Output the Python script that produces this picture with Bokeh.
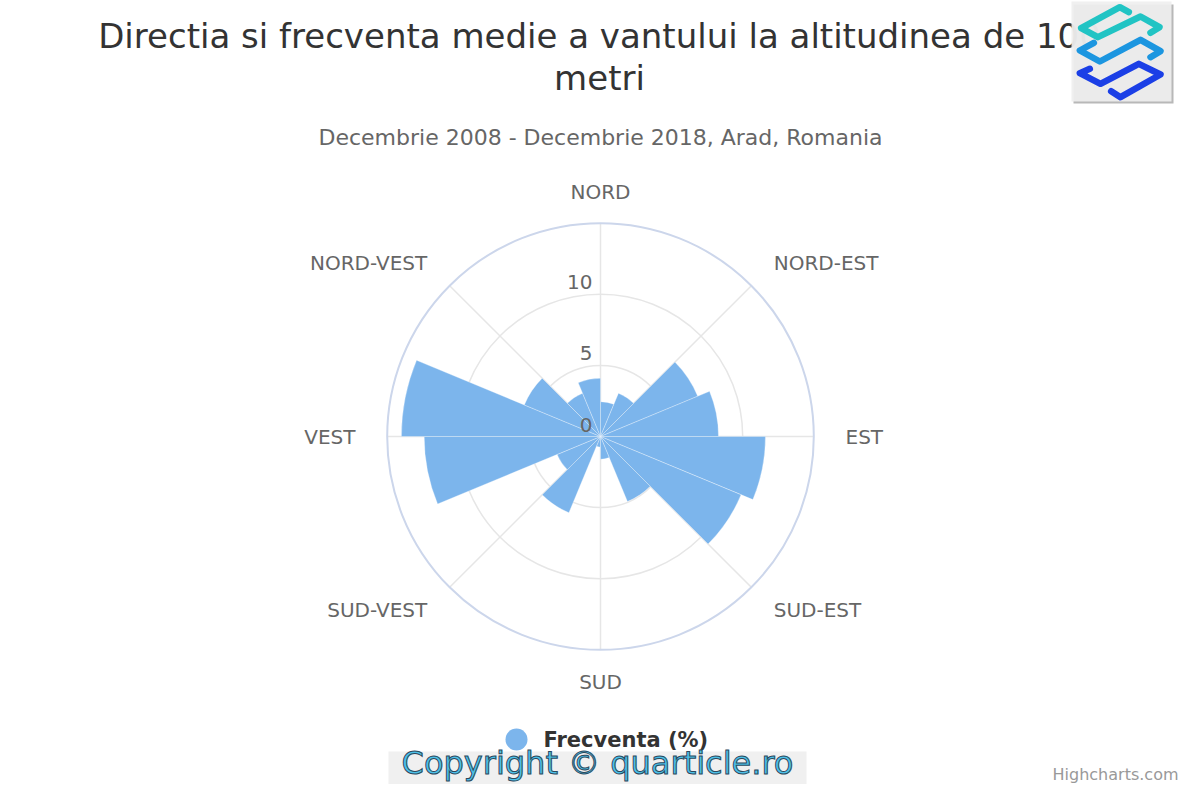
import math
from bokeh.plotting import figure
from bokeh.models import Range1d
from bokeh.core.properties import value
from bokeh.embed import file_html
from bokeh.resources import INLINE

# ---------------- data ----------------
sectors = ["N", "NNE", "NE", "ENE", "E", "ESE", "SE", "SSE",
           "S", "SSV", "SV", "VSV", "V", "VNV", "NV", "NNV"]
frecventa = [2.45, 3.3, 7.4, 8.3, 11.6, 10.7, 4.95, 1.6,
             0.75, 5.8, 3.3, 12.4, 14.0, 5.8, 3.3, 4.1]
axis_labels = ["NORD", "NORD-EST", "EST", "SUD-EST", "SUD", "SUD-VEST", "VEST", "NORD-VEST"]
radial_ticks = [0, 5, 10]
radial_max = 15

title_lines = ["Directia si frecventa medie a vantului la altitudinea de 100", "metri"]
subtitle = "Decembrie 2008 - Decembrie 2018, Arad, Romania"
series_name = "Frecventa (%)"

# ---------------- layout ----------------
W, H = 1184, 784
CX, CY = 600, 436          # centre of the rose in picture pixels
R_PX = 213.3               # outer radius in pixels
K = R_PX / radial_max      # pixels per unit
FONT = value("DejaVu Sans")

def dx(X):
    return (X - CX) / K

def dy(Y):
    return (CY - Y) / K

p = figure(width=W, height=H, output_backend="svg", toolbar_location=None,
           x_range=Range1d(dx(0), dx(W)), y_range=Range1d(dy(H), dy(0)),
           min_border=0, outline_line_color=None)
p.axis.visible = False
p.grid.visible = False
p.background_fill_color = "white"

# grid circles and spokes
n_lab = len(axis_labels)
sp_ang = [i * 360 / n_lab for i in range(n_lab)]
p.segment(x0=[0] * n_lab, y0=[0] * n_lab,
          x1=[radial_max * math.sin(math.radians(a)) for a in sp_ang],
          y1=[radial_max * math.cos(math.radians(a)) for a in sp_ang],
          line_color="#e6e6e6", line_width=1.5)
grid_r = [t for t in radial_ticks if t > 0]
p.circle(x=[0] * len(grid_r), y=[0] * len(grid_r), radius=grid_r,
         fill_color=None, line_color="#e6e6e6", line_width=1.5)
p.circle(x=[0], y=[0], radius=[radial_max], fill_color=None,
         line_color="#ccd6eb", line_width=2)

# wind rose bars
n = len(frecventa)
step = 360 / n
starts = [math.radians(90 - (i + 1) * step) for i in range(n)]
ends = [math.radians(90 - i * step) for i in range(n)]
p.wedge(x=[0] * n, y=[0] * n, radius=frecventa, start_angle=starts, end_angle=ends,
        fill_color="#7cb5ec", line_color="white", line_alpha=0.5, line_width=0.6)

# category labels
LR = 245 / K
for i, a in enumerate(sp_ang):
    s = math.sin(math.radians(a))
    c = math.cos(math.radians(a))
    al = "left" if s > 0.01 else ("right" if s < -0.01 else "center")
    p.text(x=[LR * s], y=[LR * c], text=[axis_labels[i]], text_font=FONT,
           text_font_size="20px", text_color="#666666", text_align=al,
           text_baseline="middle")

# radial tick labels
p.text(x=[-8 / K] * len(radial_ticks), y=[t + 12 / K for t in radial_ticks],
       text=[str(t) for t in radial_ticks], text_font=FONT, text_font_size="20px",
       text_color="#666666", text_align="right", text_baseline="middle")

# title & subtitle
p.text(x=[dx(599)] * 2, y=[dy(35), dy(77)], text=title_lines, text_font=FONT,
       text_font_size="34px", text_color="#333333", text_align="center",
       text_baseline="middle")
p.text(x=[dx(600)], y=[dy(137)], text=[subtitle], text_font=FONT,
       text_font_size="22px", text_color="#666666", text_align="center",
       text_baseline="middle")

# legend
p.scatter(x=[dx(516)], y=[dy(739)], size=22, marker="circle",
          fill_color="#7cb5ec", line_color=None)
p.text(x=[dx(543)], y=[dy(739)], text=[series_name], text_font=FONT,
       text_font_size="21px", text_font_style="bold", text_color="#333333",
       text_align="left", text_baseline="middle")

# copyright band
p.quad(left=[dx(388)], right=[dx(806)], top=[dy(751)], bottom=[dy(784)],
       fill_color="#f0f0f0", line_color=None)
p.text(x=[dx(597)], y=[dy(762)], text=["Copyright © quarticle.ro"], text_font=FONT,
       text_font_size="32px", text_color="#4cc0e8", text_outline_color="#2b4a5e",
       text_align="center", text_baseline="middle")

# credits
p.text(x=[dx(1178)], y=[dy(774)], text=["Highcharts.com"], text_font=FONT,
       text_font_size="16px", text_color="#999999", text_align="right",
       text_baseline="middle")

# logo
p.quad(left=[dx(1073)], right=[dx(1173)], top=[dy(4)], bottom=[dy(103)],
       fill_color="#888888", fill_alpha=0.6, line_color=None)
p.quad(left=[dx(1071)], right=[dx(1171)], top=[dy(1)], bottom=[dy(101)],
       fill_color="#efefef", fill_alpha=0.93, line_color=None)

def zpath(pts):
    return [dx(1060 + zx / 3) for zx, zy in pts], [dy(zy / 3) for zx, zy in pts]

logo_paths = [
    ([(205, 35), (178, 20), (62, 83), (112, 110), (240, 48), (297, 80), (270, 97)], "#21c4c4"),
    ([(100, 127), (58, 150), (118, 183), (240, 118), (300, 152), (270, 170)], "#1c96e0"),
    ([(88, 205), (58, 218), (120, 250), (235, 190), (300, 222), (180, 290), (152, 272)], "#1b3fe6"),
]
for pts, col in logo_paths:
    xs, ys = zpath(pts)
    p.line(x=xs, y=ys, line_color=col, line_width=6.5, line_cap="round", line_join="round")

open("out.html", "w").write(file_html(p, INLINE))
